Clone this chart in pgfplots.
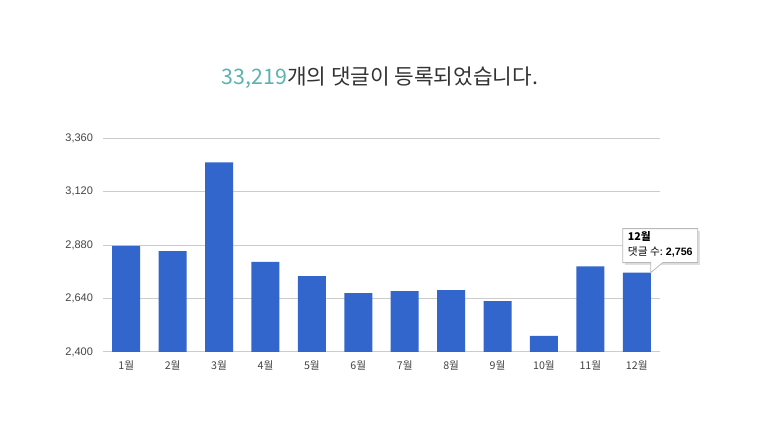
\documentclass[border=0pt]{standalone}
\usepackage{pgfplots}
\pgfplotsset{compat=1.18}
\usepackage{fontspec}
\setmainfont{Liberation Sans}
\newfontfamily\kr{Noto Sans CJK KR}

\definecolor{barblue}{HTML}{3366CC}
\definecolor{gridgray}{HTML}{CCCCCC}
\definecolor{ticktext}{HTML}{444444}
\definecolor{numteal}{HTML}{5BB3AE}
\definecolor{titlegray}{HTML}{333333}

% monthly comment counts
\pgfplotstableread{
x  y
0  2876
1  2853
2  3251
3  2804
4  2740
5  2664
6  2673
7  2678
8  2628
9  2472
10 2784
11 2756
}\comments

\begin{document}
\begin{tikzpicture}
\path[use as bounding box, fill=white] (0,0) rectangle (573pt,326.25pt);

\node[font=\kr\fontsize{16}{18}\selectfont, text=titlegray] at (285pt,267.75pt)
  {\textcolor{numteal}{33,219}개의 댓글이 등록되었습니다.};

\begin{axis}[
  at={(77.25pt,62.25pt)}, anchor=south west,
  scale only axis, width=417.75pt, height=160.5pt,
  xmin=-0.5, xmax=11.5, ymin=2400, ymax=3360,
  ytick={2400,2640,2880,3120,3360},
  xtick={0,...,11},
  xticklabels={1월,2월,3월,4월,5월,6월,7월,8월,9월,10월,11월,12월},
  ymajorgrids,
  grid style={gridgray, line width=0.75pt},
  axis line style={draw=none},
  major tick length=0pt,
  /pgf/number format/assume math mode=true,
  /pgf/number format/1000 sep={,},
  x tick label style={font=\kr\fontsize{8}{10}\selectfont, text=ticktext, yshift=-3pt},
  y tick label style={font=\fontsize{8.25}{10}\selectfont, text=ticktext, xshift=-4pt},
  clip=false,
]
\addplot[ybar, bar width=21pt, fill=barblue, draw=none] table[x=x, y=y] {\comments};

% tooltip on the last bar
\coordinate (tip) at (axis cs:11.3,2756);
\fill[black!12] ([xshift=-19.5pt,yshift=6pt]tip) rectangle ([xshift=36.75pt,yshift=31.5pt]tip);
\draw[gray!55, fill=white, line width=0.6pt]
  ([xshift=-21pt,yshift=7.5pt]tip) -- ([xshift=0pt,yshift=7.5pt]tip) -- (tip)
  -- ([xshift=9pt,yshift=7.5pt]tip) -- ([xshift=35.25pt,yshift=7.5pt]tip)
  -- ([xshift=35.25pt,yshift=33pt]tip) -- ([xshift=-21pt,yshift=33pt]tip) -- cycle;
\node[anchor=west, font=\kr\bfseries\fontsize{8}{10}\selectfont, inner sep=0pt]
  at ([xshift=-17.25pt,yshift=27pt]tip) {12월};
\node[anchor=west, font=\kr\fontsize{8}{10}\selectfont, inner sep=0pt]
  at ([xshift=-17.25pt,yshift=15.75pt]tip) {댓글 수: {\fontspec{Liberation Sans}\bfseries 2,756}};
\end{axis}
\end{tikzpicture}
\end{document}
